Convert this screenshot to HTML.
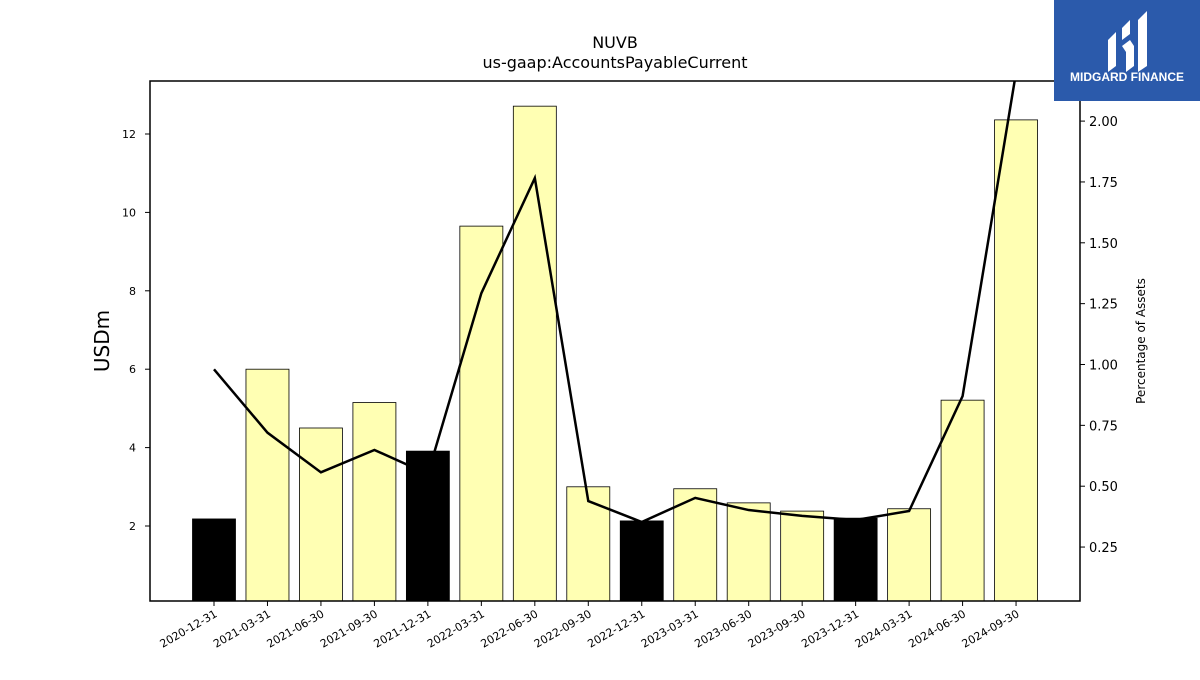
<!DOCTYPE html>
<html><head><meta charset="utf-8"><style>
body{margin:0;background:#fff;font-family:"Liberation Sans","DejaVu Sans",sans-serif}
</style></head><body>
<svg id="c" width="1200" height="675" xmlns="http://www.w3.org/2000/svg" font-family="DejaVu Sans, Liberation Sans, sans-serif">
<rect width="1200" height="675" fill="#fff"/>
<text x="615" y="48" text-anchor="middle" font-size="16">NUVB</text>
<text x="615" y="68" text-anchor="middle" font-size="16">us-gaap:AccountsPayableCurrent</text>
<defs><clipPath id="pc"><rect x="150" y="81" width="930" height="520"/></clipPath></defs>
<g id="bars"></g>
<g id="line" clip-path="url(#pc)"></g>
<rect x="150" y="81" width="930" height="520" fill="none" stroke="#000" stroke-width="1.5"/>
<g id="axes"></g>
<text transform="translate(109,341) rotate(-90)" text-anchor="middle" font-size="20">USDm</text>
<text transform="translate(1145,341) rotate(-90)" text-anchor="middle" font-size="12">Percentage of Assets</text>
<g>
<rect x="1054" y="0" width="146" height="101" fill="#2b5aab"/>
<path d="M1108 40 L1116 32 L1116 66 L1108 72 Z" fill="#fff"/>
<path d="M1122 28 L1130 20 L1130 34 L1122 40 Z M1122 46 L1130 40 L1134 46 L1134 66 L1126 72 L1126 52 Z" fill="#fff"/>
<path d="M1138 20 L1147 11 L1147 66 L1138 72 Z" fill="#fff"/>
<text x="1127" y="81" text-anchor="middle" font-size="12" font-weight="bold" fill="#fff" font-family="Liberation Sans, sans-serif">MIDGARD FINANCE</text>
</g>
</svg>
<script>
const categories=["2020-12-31","2021-03-31","2021-06-30","2021-09-30","2021-12-31","2022-03-31","2022-06-30","2022-09-30","2022-12-31","2023-03-31","2023-06-30","2023-09-30","2023-12-31","2024-03-31","2024-06-30","2024-09-30"];
const barValues=[2.18,6.0,4.5,5.15,3.91,9.65,12.71,3.0,2.13,2.95,2.59,2.38,2.2,2.44,5.21,12.36];
const pctValues=[0.98,0.72,0.557,0.649,0.55,1.293,1.766,0.439,0.353,0.452,0.402,0.378,0.361,0.398,0.87,2.2];
const leftTicks=[2,4,6,8,10,12];
const rightTicks=[0.25,0.5,0.75,1.0,1.25,1.5,1.75,2.0];
const NS="http://www.w3.org/2000/svg";
const x=i=>214+i*53.47;
const yL=v=>604.4-v*39.2;
const yR=v=>607.9-v*243.4;
function mk(t,a,p){const e=document.createElementNS(NS,t);for(const k in a)e.setAttribute(k,a[k]);p.appendChild(e);return e;}
const bars=document.getElementById('bars'),line=document.getElementById('line'),axes=document.getElementById('axes');
categories.forEach((c,i)=>{
 const ye=c.endsWith("12-31");
 const r=mk('rect',{x:x(i)-21.5,y:yL(barValues[i]),width:43,height:601-yL(barValues[i]),fill:ye?'#000':'#ffffb3',stroke:'#000','stroke-width':0.8},bars);
 
 
 const tk=mk('line',{x1:x(i),x2:x(i),y1:601,y2:606,stroke:'#000'},axes);
 
 
 const t=mk('text',{transform:`translate(${x(i)+4},616) rotate(-30)`,'text-anchor':'end','font-size':11},axes);
 t.textContent=c;
 
 
});
const pl=mk('polyline',{points:pctValues.map((v,i)=>x(i)+','+yR(v)).join(' '),fill:'none',stroke:'#000','stroke-width':2.5},line);


leftTicks.forEach(v=>{
 const l=mk('line',{x1:145,x2:150,y1:yL(v),y2:yL(v),stroke:'#000'},axes);
 
 
 const t=mk('text',{x:136,y:yL(v)+4,'text-anchor':'end','font-size':11},axes);
 t.textContent=v;
 
 
});
rightTicks.forEach(v=>{
 const l=mk('line',{x1:1080,x2:1085,y1:yR(v),y2:yR(v),stroke:'#000'},axes);
 
 
 const t=mk('text',{x:1089,y:yR(v)+5,'font-size':13},axes);
 t.textContent=v.toFixed(2);
 
 
});
</script>
</body></html>
